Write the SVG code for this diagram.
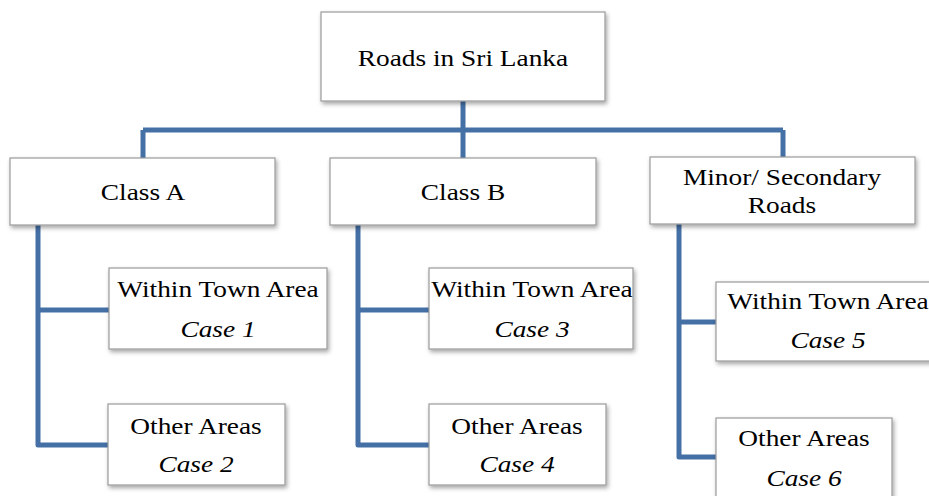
<svg xmlns="http://www.w3.org/2000/svg" width="929" height="496" viewBox="0 0 929 496">
<defs>
<filter id="sh" x="-10%" y="-10%" width="125%" height="130%">
<feDropShadow dx="1.5" dy="2.5" stdDeviation="2" flood-color="#000" flood-opacity="0.35"/>
</filter>
</defs>
<style>
.box{fill:#fff;stroke:#9a9a9a;stroke-width:1.2;filter:url(#sh)}
.t{font-family:'Liberation Serif',serif;font-size:24px;fill:#000;text-anchor:middle}
.i{font-style:italic}
.c{fill:none;stroke:#4470a6;stroke-width:5;stroke-linejoin:round;stroke-linecap:butt}
</style>
<rect width="929" height="496" fill="#fff"/>
<g id="connectors">
<path class="c" d="M463 101V130M143 130H783M143 130V158M463 130V158M783 130V157"/>
<path class="c" d="M38 225V445H108M38 310H109"/>
<path class="c" d="M358 225V445H429M358 310H429"/>
<path class="c" d="M679 224V457H716M679 322H716"/>
</g>
<g id="root"><rect class="box" x="321" y="12" width="284" height="89"/><text class="t" transform="translate(463 66) scale(1.14 1)">Roads in Sri Lanka</text></g>
<g id="classA"><rect class="box" x="10" y="158" width="265" height="67"/><text class="t" transform="translate(143 200) scale(1.14 1)">Class A</text></g>
<g id="classB"><rect class="box" x="330" y="158" width="266" height="67"/><text class="t" transform="translate(463 200) scale(1.14 1)">Class B</text></g>
<g id="minor"><rect class="box" x="650" y="157" width="265" height="67"/><text class="t" transform="translate(782 185) scale(1.14 1)">Minor/ Secondary</text><text class="t" transform="translate(782 213) scale(1.14 1)">Roads</text></g>
<g id="case1"><rect class="box" x="109" y="268" width="218" height="81"/><text class="t" transform="translate(218 297) scale(1.14 1)">Within Town Area</text><text class="t i" transform="translate(218 337) scale(1.14 1)">Case 1</text></g>
<g id="case2"><rect class="box" x="108" y="404" width="177" height="81"/><text class="t" transform="translate(196 434) scale(1.14 1)">Other Areas</text><text class="t i" transform="translate(196 472) scale(1.14 1)">Case 2</text></g>
<g id="case3"><rect class="box" x="429" y="268" width="204" height="81"/><text class="t" transform="translate(532 297) scale(1.14 1)">Within Town Area</text><text class="t i" transform="translate(532 337) scale(1.14 1)">Case 3</text></g>
<g id="case4"><rect class="box" x="429" y="404" width="177" height="81"/><text class="t" transform="translate(517 434) scale(1.14 1)">Other Areas</text><text class="t i" transform="translate(517 472) scale(1.14 1)">Case 4</text></g>
<g id="case5"><rect class="box" x="716" y="282" width="230" height="79"/><text class="t" transform="translate(828 309) scale(1.14 1)">Within Town Area</text><text class="t i" transform="translate(828 348) scale(1.14 1)">Case 5</text></g>
<g id="case6"><rect class="box" x="716" y="418" width="176" height="90"/><text class="t" transform="translate(804 446) scale(1.14 1)">Other Areas</text><text class="t i" transform="translate(804 486) scale(1.14 1)">Case 6</text></g>
</svg>
